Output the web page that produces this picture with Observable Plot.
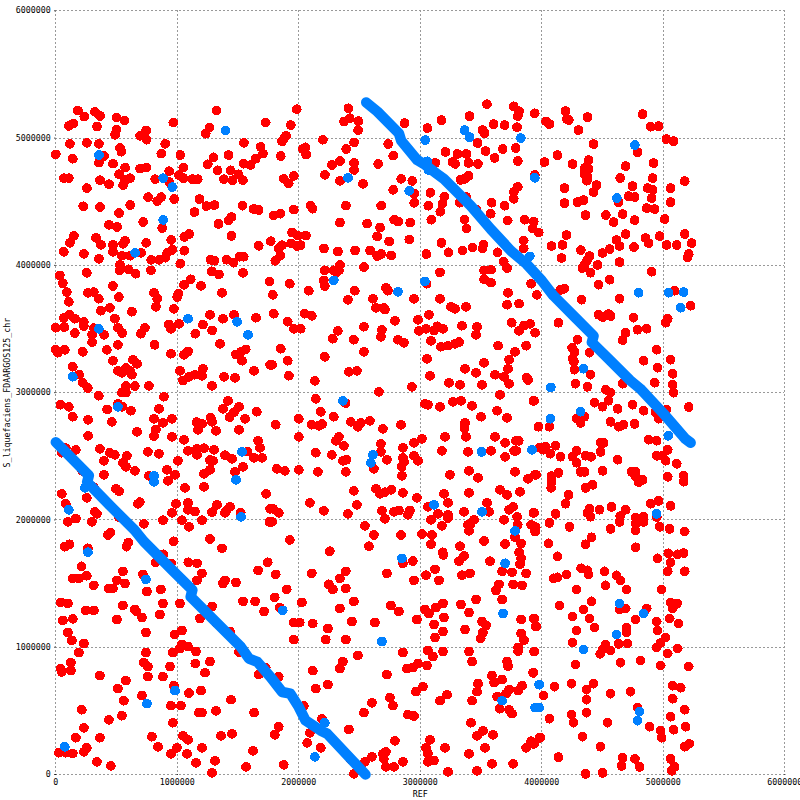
<!DOCTYPE html>
<html>
<head>
<meta charset="utf-8">
<script src="https://cdn.jsdelivr.net/npm/d3@7"></script>
<script src="https://cdn.jsdelivr.net/npm/@observablehq/plot@0.6"></script>
<style>html,body{margin:0;padding:0;background:#fff}svg{display:block}</style>
</head>
<body>
<div id="chart"></div>
<script>
// all positions in kilobases: [REF, query]
const xTickValues = [0,1000000,2000000,3000000,4000000,5000000,6000000];
const yTickValues = [0,1000000,2000000,3000000,4000000,5000000,6000000];

const redTopLeft = [[182,5216],[234,5169],[322,5206],[364,5174],[499,5161],[565,5138],[107,5096],[143,5114],[339,5091],[499,5068],[488,5026],[744,5060],[694,5018],[727,5021],[747,4987],[967,5122],[1322,5216],[1265,5083],[1234,5034],[1727,5122],[116,4955],[256,4963],[355,4955],[529,4922],[540,4893],[901,4955],[1548,4963],[1686,4930],[1705,4878],[0,4872],[140,4838],[397,4859],[355,4807],[471,4799],[570,4768],[694,4760],[744,4768],[868,4878],[1025,4867],[1050,4768],[1298,4849],[1422,4867],[1251,4794],[1331,4747],[1438,4747],[1546,4799],[1603,4789],[1645,4838],[934,4740],[521,4716],[66,4685],[107,4685],[364,4669],[438,4638],[570,4669],[612,4685],[554,4630],[818,4677],[1014,4708],[1050,4685],[1124,4677],[1168,4677],[1383,4677],[1455,4669],[1504,4716],[1540,4669],[934,4654],[256,4607],[760,4536],[868,4536],[835,4505],[975,4521],[1182,4521],[226,4464],[364,4458],[612,4474],[1240,4466],[1306,4474],[1537,4469],[1628,4443],[1670,4435],[521,4411],[1141,4419],[719,4341],[1339,4326],[1422,4352],[1446,4380],[438,4318],[504,4302],[876,4294],[149,4232],[331,4216],[116,4177],[372,4161],[471,4161],[471,4107],[570,4193],[554,4169],[744,4177],[950,4200],[1058,4224],[1099,4247],[1446,4232],[1769,4190],[1670,4154],[66,4107],[231,4091],[355,4052],[545,4076],[612,4076],[529,4005],[703,4099],[785,4044],[851,4044],[901,4060],[917,4099],[959,4122],[1058,4115],[1025,4013],[1273,4044],[1306,4036],[1405,4044],[1463,4021],[1512,4068],[1546,4068]];

const redTopMiddle = [[1983,5227],[2408,5234],[1934,5102],[2372,5130],[2419,5156],[2490,5133],[2488,5062],[1876,4992],[1895,5018],[1862,4974],[2198,4987],[2455,4966],[2033,4914],[2055,4927],[2061,4870],[2391,4914],[2736,4953],[2777,4862],[2871,5117],[3058,5078],[3174,5141],[3405,5172],[3548,5266],[3769,5250],[3813,5211],[3802,5172],[3942,5195],[3603,5109],[3694,5102],[3796,5086],[3512,5062],[3529,5039],[3471,4961],[3537,4898],[3678,4914],[3785,4922],[3612,4844],[3802,4820],[3207,4891],[3306,4875],[3380,4875],[1851,4859],[2339,4820],[2273,4789],[2455,4805],[2455,4750],[2653,4797],[3124,4805],[3265,4812],[3287,4797],[3397,4805],[3474,4797],[2215,4711],[1876,4680],[1917,4643],[1959,4703],[2339,4664],[2529,4641],[2843,4680],[2934,4664],[2777,4594],[3331,4672],[3364,4680],[3397,4703],[3942,4711],[3802,4617],[3769,4576],[3769,4523],[2950,4563],[3083,4570],[2950,4492],[3198,4539],[3182,4484],[3165,4422],[3066,4469],[3380,4536],[3323,4492],[2388,4469],[2678,4469],[2096,4469],[2113,4445],[1959,4438],[1848,4406],[1793,4391],[3587,4492],[3694,4469],[3460,4438],[3579,4406],[2785,4359],[2818,4344],[2917,4336],[3091,4359],[3364,4359],[3380,4289],[3719,4352],[3860,4359],[3934,4344],[3926,4289],[3975,4258],[2339,4336],[2562,4328],[2669,4297],[2645,4227],[2909,4203],[2744,4188],[1945,4258],[1992,4234],[2058,4234],[1937,4172],[1986,4151],[2014,4159],[1862,4159],[1835,4133],[2207,4133],[2322,4109],[2463,4117],[2587,4117],[2678,4089],[2645,4073],[2760,4078],[1848,4076],[1807,4036],[3174,4177],[3232,4102],[3050,4089],[3347,4117],[3430,4141],[3521,4164],[3512,4133],[3636,4102],[3851,4195],[3851,4133],[3686,4031],[2339,4003]];

const redTopRight = [[4195,5212],[4036,5131],[4063,5110],[4206,5149],[4222,5142],[4376,5165],[4302,5063],[4830,5188],[4896,5089],[4961,5094],[4426,4953],[5025,4992],[5085,4976],[4788,4890],[4129,4866],[4022,4812],[4253,4796],[4385,4827],[4352,4764],[4385,4757],[4352,4717],[4376,4696],[4371,4665],[4690,4780],[4920,4804],[4646,4686],[4912,4686],[5176,4662],[4747,4623],[4187,4607],[4451,4631],[4426,4576],[4871,4607],[4912,4594],[5060,4607],[4714,4544],[4764,4537],[4904,4529],[5060,4497],[4187,4489],[4294,4497],[4343,4513],[4632,4497],[4863,4450],[4929,4442],[4360,4395],[4527,4395],[4665,4403],[4591,4340],[4764,4356],[5011,4364],[4203,4238],[4690,4246],[4854,4215],[4879,4175],[4970,4230],[5176,4246],[4615,4199],[4640,4152],[4080,4152],[4170,4160],[4758,4144],[5027,4160],[5110,4160],[5233,4175],[4321,4120],[5209,4089],[5200,4063],[4162,4058],[4393,4073],[4500,4097],[4558,4128],[4640,4026],[4459,4003],[4352,4003],[4371,4037]];

const redMidLeft = [[33,3921],[58,3859],[91,3790],[107,3714],[255,3942],[264,3785],[313,3790],[354,3738],[470,3838],[519,3751],[527,3961],[599,3969],[657,3934],[783,3961],[371,3644],[445,3667],[626,3636],[808,3785],[835,3738],[824,3675],[972,3659],[1000,3751],[1008,3777],[1055,3848],[1110,3890],[1195,3840],[1283,3953],[1343,3929],[1541,3942],[1368,3785],[1758,3874],[115,3612],[66,3586],[157,3581],[231,3555],[231,3523],[486,3581],[313,3507],[71,3515],[0,3510],[157,3468],[299,3455],[299,3397],[398,3455],[511,3510],[547,3468],[733,3510],[700,3463],[931,3536],[948,3502],[1014,3541],[1211,3534],[1286,3489],[1148,3463],[1269,3612],[1376,3581],[1467,3612],[1648,3589],[511,3376],[813,3376],[1352,3384],[0,3337],[16,3314],[74,3337],[222,3321],[420,3337],[948,3306],[1055,3298],[1088,3324],[1483,3300],[1522,3319],[1563,3340],[1533,3251],[470,3251],[635,3259],[668,3227],[140,3204],[511,3172],[547,3156],[577,3193],[610,3172],[626,3141],[192,3141],[1022,3172],[1211,3188],[1145,3141],[1203,3133],[1096,3125],[1047,3096],[1385,3125],[1475,3117],[1632,3172],[1764,3219],[222,3078],[264,3036],[577,3052],[651,3052],[766,3054],[1286,3054],[544,3000],[577,3000],[354,2976],[890,2968],[38,2905],[107,2889],[1417,2936],[511,2913],[547,2889],[423,2868],[618,2858],[849,2873],[1376,2873],[1508,2889],[1467,2847],[1431,2808],[1654,2850],[140,2811],[266,2787],[461,2771],[808,2795],[956,2795],[882,2763],[1159,2769],[1203,2755],[1170,2708],[1275,2803],[1286,2771],[1558,2795],[668,2693],[824,2711],[808,2659],[1319,2700],[1508,2708],[266,2661],[956,2653],[1055,2630],[1665,2622],[1681,2567],[82,2564],[165,2551],[363,2559],[49,2528],[445,2528],[486,2512],[585,2504],[758,2535],[849,2520],[1088,2543],[1162,2559],[1162,2512],[1220,2564],[1302,2551],[1269,2470],[1294,2465],[1393,2509],[1450,2480],[1577,2538],[1632,2488],[1698,2488],[1005,2465],[396,2465],[552,2449],[577,2418],[651,2386],[915,2394],[1269,2394],[1220,2362],[1541,2418],[1475,2378],[217,2386],[396,2355],[766,2347],[981,2355],[923,2307],[313,2258],[1063,2252],[1220,2260],[495,2245],[520,2225],[1731,2205],[49,2205],[255,2174],[82,2127],[676,2127],[692,2140],[989,2127],[1088,2134],[1088,2080],[1145,2066],[1327,2119],[1434,2103],[1393,2056],[1407,2075],[1286,2061],[956,2056],[321,2064],[338,2048],[165,2011],[99,1985],[297,1985],[882,1998],[1038,1998],[1203,1998],[725,1970],[1096,1946],[1522,2056],[519,2022],[1764,2087],[1758,1985]];

const redMidMiddle = [[2214,3961],[2288,3961],[2330,3961],[2310,3942],[2536,3987],[2206,3882],[2214,3838],[1926,3856],[2082,3801],[1786,3769],[2461,3801],[2404,3730],[2610,3738],[2717,3824],[2733,3801],[2948,3738],[3052,3856],[3162,3945],[3162,3738],[3525,3961],[3582,3966],[3525,3890],[3582,3864],[3714,3979],[3912,3856],[3722,3785],[3959,3769],[3714,3691],[3813,3699],[3253,3675],[3286,3659],[3376,3675],[2635,3667],[2700,3667],[2709,3652],[1794,3620],[2049,3620],[2107,3604],[1909,3557],[2791,3565],[3071,3612],[2981,3573],[1959,3502],[2016,3502],[2321,3486],[2536,3518],[2684,3494],[2280,3424],[2453,3416],[2676,3439],[2816,3416],[2865,3392],[2989,3486],[3047,3502],[3113,3489],[3140,3521],[3187,3502],[3343,3526],[3467,3518],[3459,3455],[3088,3408],[3170,3361],[3228,3369],[3286,3384],[3319,3397],[3752,3549],[3813,3486],[3854,3528],[3904,3541],[3945,3471],[3640,3369],[3871,3369],[1852,3345],[2214,3282],[2536,3321],[3780,3321],[1909,3251],[1780,3219],[3055,3266],[3525,3235],[3731,3259],[3722,3188],[3368,3188],[3459,3156],[2412,3164],[2478,3172],[1918,3133],[3080,3133],[3615,3141],[3689,3125],[3876,3117],[3887,3100],[2132,3093],[3236,3078],[3327,3062],[3508,3062],[3731,3070],[2931,3046],[2659,3007],[3656,2983],[2140,2952],[2385,2918],[3038,2913],[3063,2905],[3162,2889],[3269,2928],[3335,2936],[3426,2897],[3937,2936],[2181,2850],[3632,2858],[2288,2811],[2000,2795],[3500,2811],[3714,2803],[1810,2748],[2107,2748],[2165,2740],[2192,2753],[2428,2771],[2486,2732],[2511,2763],[2585,2779],[2692,2716],[2841,2748],[3368,2763],[3363,2721],[3972,2732],[2000,2653],[2330,2653],[2305,2622],[3376,2653],[3203,2653],[3615,2653],[3013,2638],[2948,2606],[2676,2598],[3698,2606],[3788,2622],[3810,2622],[2371,2583],[2857,2567],[2676,2535],[2140,2528],[2272,2512],[3178,2543],[3393,2535],[3582,2543],[3772,2543],[3790,2543],[3698,2496],[2948,2504],[2981,2465],[2857,2488],[2865,2455],[2725,2473],[2363,2465],[2393,2473],[2618,2402],[2846,2418],[2849,2347],[1819,2402],[1885,2386],[2000,2394],[2157,2378],[2387,2378],[3401,2386],[3780,2378],[3244,2355],[3475,2331],[3887,2323],[3953,2355],[2453,2229],[2635,2245],[2668,2205],[2709,2218],[2761,2237],[2857,2213],[3195,2205],[3401,2213],[3656,2237],[3714,2197],[3821,2221],[2972,2174],[2091,2135],[2478,2119],[3228,2135],[3549,2135],[3063,2103],[1788,2087],[1835,2056],[2206,2072],[2404,2048],[2684,2072],[2709,2009],[2783,2064],[2824,2074],[2915,2074],[2898,2040],[3146,2048],[3228,2040],[3228,2015],[3360,2064],[3566,2064],[3731,2080],[3764,2103],[3797,2025],[3937,2056],[1780,1985],[3088,2001],[3442,2001],[3415,1970],[3689,2001],[2544,1954],[3178,1954],[3393,1962],[3401,1914],[3802,1962],[3912,1962],[3950,1943]];

const redMidRight = [[4335,3979],[4401,3942],[4904,3950],[4558,3887],[4467,3848],[4187,3817],[4151,3806],[5093,3801],[5225,3683],[4327,3730],[4640,3738],[4467,3612],[4500,3594],[4549,3617],[4566,3602],[4755,3589],[5036,3581],[5019,3549],[4137,3549],[4788,3494],[4863,3502],[4690,3471],[4665,3413],[4294,3416],[4250,3353],[4269,3319],[4253,3266],[4264,3245],[4393,3314],[4945,3337],[4838,3251],[5060,3259],[4953,3196],[4269,3180],[4401,3141],[5077,3148],[4277,3070],[4376,3046],[4665,3070],[4929,3078],[5077,3062],[4527,3023],[4566,3000],[4549,2936],[5085,3000],[4434,2921],[4500,2889],[4747,2905],[4624,2873],[4838,2858],[5209,2887],[5027,2866],[4961,2795],[4936,2847],[4352,2811],[4286,2795],[4319,2763],[4566,2771],[4632,2732],[4673,2748],[4764,2755],[3973,2732],[4063,2732],[3931,2936],[4879,2630],[4945,2622],[4484,2606],[4509,2606],[4484,2535],[5036,2551],[4033,2575],[3981,2567],[4014,2551],[4113,2583],[4071,2520],[4154,2496],[4286,2543],[4253,2496],[4286,2449],[4360,2504],[4407,2496],[4624,2473],[4945,2504],[4994,2507],[5019,2465],[5110,2441],[4319,2378],[4352,2378],[4500,2386],[4739,2378],[4772,2378],[4772,2339],[4830,2315],[4797,2297],[5036,2339],[5167,2347],[5167,2300],[4137,2370],[4080,2344],[3945,2355],[4080,2297],[4077,2252],[4360,2252],[4418,2276],[4220,2197],[4195,2127],[3931,2056],[4113,2048],[4393,2087],[4376,2056],[4401,2025],[4475,2080],[4574,2103],[4690,2080],[4646,2030],[4640,1985],[4772,2017],[4838,2025],[4838,1985],[4772,1970],[4772,1917],[4896,2127],[4961,2150],[5060,2111],[4947,2022],[4063,1977],[4228,1946],[4566,1930],[4970,1946],[5052,1930],[5176,1909]];

const redLowLeft = [[429,1882],[450,1900],[74,1790],[113,1809],[264,1777],[596,1822],[582,1790],[970,1832],[1269,1851],[1368,1777],[885,1730],[212,1635],[821,1667],[948,1659],[1091,1667],[1162,1659],[1744,1667],[552,1596],[1665,1604],[1203,1580],[1162,1525],[255,1562],[140,1541],[190,1541],[503,1525],[569,1501],[717,1572],[1393,1525],[1376,1501],[1483,1509],[313,1486],[437,1462],[470,1462],[865,1454],[750,1438],[41,1352],[99,1344],[882,1344],[1022,1344],[1541,1360],[1640,1360],[552,1328],[651,1297],[665,1280],[247,1289],[313,1289],[1714,1281],[1286,1320],[857,1257],[709,1234],[1187,1226],[58,1210],[140,1223],[503,1218],[1319,1194],[742,1116],[1038,1131],[978,1100],[99,1116],[1434,1123],[132,1053],[231,1029],[1022,990],[1038,1021],[1088,1005],[964,958],[1154,966],[742,958],[190,958],[1549,971],[1508,963],[124,879],[725,879],[758,848],[1148,872],[1269,887],[940,848],[41,832],[49,806],[124,816],[1228,800],[1728,840],[1670,785],[363,777],[758,769],[882,769],[577,738],[511,675],[972,698],[1096,640],[1195,659],[709,620],[560,580],[1442,588],[948,541],[1030,541],[214,509],[1178,486],[1203,486],[1319,501],[1632,486],[544,462],[437,430],[964,407],[231,367],[165,289],[363,289],[791,297],[1047,304],[1088,273],[1360,304],[1450,320],[255,210],[231,178],[25,171],[82,171],[140,165],[841,218],[997,210],[1203,210],[948,163],[1080,163],[1623,186],[338,100],[1154,92],[1310,108],[453,68],[1566,60],[1286,13]];

const redLowMiddle = [[1926,1843],[2255,1754],[2577,1793],[2618,1882],[2841,1882],[3014,1890],[3096,1882],[3088,1809],[3327,1793],[3525,1835],[3698,1811],[3780,1864],[3830,1816],[3813,1746],[3830,1698],[3821,1651],[3184,1746],[3190,1725],[3360,1717],[3319,1675],[3574,1675],[2857,1659],[2939,1677],[1810,1572],[2107,1580],[2387,1596],[2725,1580],[3121,1612],[3047,1565],[3343,1565],[3409,1580],[3673,1596],[3755,1588],[3871,1580],[2338,1541],[2948,1525],[3154,1525],[2247,1494],[2280,1454],[2387,1462],[1901,1454],[3648,1494],[3623,1446],[3764,1494],[3838,1486],[1802,1391],[2025,1352],[2453,1360],[3459,1375],[3673,1375],[2758,1328],[3335,1336],[3187,1344],[1843,1312],[2338,1305],[3038,1297],[3071,1265],[3129,1312],[2824,1281],[3401,1273],[3195,1234],[2972,1218],[2437,1202],[2626,1194],[1959,1194],[2008,1194],[2115,1186],[2239,1147],[3113,1179],[3508,1202],[3541,1171],[3830,1218],[3937,1226],[3953,1163],[3368,1139],[3187,1123],[3516,1116],[3497,1068],[3830,1108],[3854,1055],[3121,1076],[1959,1060],[2222,1060],[2387,1060],[3805,998],[3805,969],[3063,974],[3187,966],[3401,966],[2857,958],[3937,966],[2486,935],[3104,927],[2363,887],[2338,832],[3426,887],[3714,887],[3722,851],[3055,856],[2981,872],[2939,840],[2890,832],[2115,816],[2725,785],[3929,801],[1835,769],[3590,777],[3673,746],[3607,722],[3475,714],[2239,706],[2140,675],[3022,690],[2964,651],[3467,651],[3838,698],[3805,659],[3731,667],[3706,635],[3220,627],[2750,604],[3162,580],[3426,580],[3632,612],[2775,541],[2602,564],[2041,538],[3654,517],[3731,509],[3755,478],[2536,486],[2898,470],[2948,459],[2190,438],[3417,407],[1835,375],[1802,312],[2091,328],[2412,354],[3516,344],[3467,304],[3599,312],[2791,265],[3080,273],[3912,262],[3981,289],[2069,249],[2181,210],[3047,210],[3203,210],[3533,210],[3871,210],[3937,241],[2717,178],[2692,163],[2700,123],[2602,139],[2544,100],[2428,116],[2857,100],[3401,163],[3063,163],[3063,100],[3113,110],[1876,76],[2717,60],[2783,60],[3590,84],[3764,84],[2453,5],[3228,21],[3467,29]];

const redLowRight = [[3945,1908],[4055,1816],[4409,1864],[4360,1809],[4129,1714],[4772,1785],[4953,1698],[5041,1738],[5118,1730],[5167,1740],[5060,1667],[5036,1596],[5176,1596],[4324,1620],[4376,1604],[4385,1572],[4516,1596],[4096,1541],[4129,1549],[4203,1572],[4615,1565],[4648,1525],[4525,1486],[4286,1454],[4698,1454],[4986,1454],[4409,1360],[4146,1328],[5060,1352],[5113,1344],[5077,1305],[4343,1297],[4640,1297],[4690,1305],[4863,1305],[4253,1242],[4393,1226],[3931,1226],[3948,1163],[4772,1218],[4945,1202],[5052,1226],[5126,1187],[4434,1155],[4286,1131],[4698,1155],[4698,1118],[4953,1131],[5019,1076],[4978,1034],[4945,998],[4253,1037],[4525,1021],[4500,982],[4481,948],[4566,974],[4632,1026],[4706,1029],[5118,990],[5036,950],[4277,864],[4648,879],[4813,895],[4978,856],[5209,848],[3929,798],[4244,714],[4426,714],[4104,690],[5077,698],[5143,682],[4368,667],[4566,635],[4731,651],[4014,620],[4368,588],[5077,596],[4788,525],[5176,509],[4244,470],[4368,486],[5060,454],[4063,438],[4261,407],[4541,407],[4887,375],[5184,375],[4978,344],[5085,352],[4986,289],[3989,289],[4335,297],[3931,241],[5176,218],[5214,241],[4483,218],[4137,136],[4665,131],[4766,123],[5060,123],[4657,68],[4805,60],[5093,60],[5069,29],[4360,5],[4500,13]];

const blueScattered = [[355,4867],[884,4685],[959,4615],[884,4357],[653,4099],[1397,5060],[2405,4688],[2909,4586],[3041,4984],[3364,5062],[3405,5008],[3827,5000],[3942,4688],[3901,4070],[3066,4750],[3058,4817],[4766,4945],[4618,4529],[4797,3785],[5044,3785],[5167,3790],[5143,3667],[4343,3188],[4074,3041],[4319,2850],[4071,2795],[5041,2661],[4945,2048],[354,3502],[1088,3581],[1492,3557],[1582,3455],[140,3125],[511,2889],[1533,2535],[808,2347],[808,2300],[1483,2315],[239,2252],[107,2080],[1525,2024],[2288,3882],[3038,3874],[2816,3793],[2363,2936],[2610,2512],[2593,2449],[3113,2119],[3508,2064],[3920,2551],[3505,2535],[3780,1914],[264,1746],[742,1533],[981,659],[750,557],[74,218],[2849,1698],[3698,1659],[3681,1265],[2684,1045],[1868,1289],[2132,139],[2214,407],[3673,580],[3978,706],[3945,525],[4640,1344],[4838,1265],[4615,1100],[4343,982],[3981,706],[3978,525],[4805,494],[4788,423]];

const blueUpperRun = [[2555,5280],[2646,5209],[2824,5037],[2843,4979],[2975,4827],[3040,4790],[3140,4717],[3195,4678],[3415,4468],[3580,4285],[3745,4115],[3875,4010],[4000,3880],[4096,3762],[4275,3591],[4426,3446],[4412,3395],[4563,3253],[4728,3096],[4810,3031],[5003,2834],[5181,2638],[5225,2606]];
const blueLowerRun = [[0,2611],[272,2349],[258,2297],[459,2100],[648,1921],[725,1830],[972,1593],[1124,1449],[1110,1396],[1330,1186],[1522,1003],[1590,911],[1659,885],[1767,766],[1863,648],[1931,635],[2000,530],[2055,425],[2179,346],[2234,320],[2549,0]];

const bp = rows => rows.map(([x, y]) => ({x: x * 1000, y: y * 1000}));
const redHits = bp([...redTopLeft, ...redTopMiddle, ...redTopRight, ...redMidLeft, ...redMidMiddle, ...redMidRight, ...redLowLeft, ...redLowMiddle, ...redLowRight]);

const RED = "#ff0000", BLUE = "#0080ff", GRID = "#999999";
const FONT = "'DejaVu Sans Mono', monospace";

const chart = Plot.plot({
  width: 800, height: 800,
  marginLeft: 55.3, marginRight: 15.7, marginTop: 10.3, marginBottom: 26,
  style: {background: "#fff", fontFamily: FONT, fontSize: "8.3px", color: "#000"},
  x: {type: "linear", domain: [0, 6000000], label: null},
  y: {type: "linear", domain: [0, 6000000], label: null},
  marks: [
    Plot.ruleX(xTickValues, {stroke: GRID, strokeWidth: 1, strokeDasharray: "2,2", strokeOpacity: 1, shapeRendering: "crispEdges"}),
    Plot.ruleY(yTickValues, {stroke: GRID, strokeWidth: 1, strokeDasharray: "2,2", strokeOpacity: 1, shapeRendering: "crispEdges"}),
    Plot.axisX({ticks: xTickValues, tickFormat: d => String(d), tickSize: 1, tickPadding: 4,
      label: "REF", labelAnchor: "center", labelArrow: "none", labelOffset: 22, fontFamily: FONT}),
    Plot.axisY({ticks: yTickValues, tickFormat: d => String(d), tickSize: 1, tickPadding: 4,
      label: "S_liquefaciens_FDAARGOS125_chr", labelAnchor: "center", labelArrow: "none", labelOffset: 52, fontFamily: FONT}),
    Plot.dot(redHits, {x: "x", y: "y", r: 4.9, fill: RED, stroke: "none", shapeRendering: "crispEdges"}),
    Plot.line(bp(blueUpperRun), {x: "x", y: "y", stroke: BLUE, strokeWidth: 10.5, strokeLinecap: "round", strokeLinejoin: "round"}),
    Plot.line(bp(blueLowerRun), {x: "x", y: "y", stroke: BLUE, strokeWidth: 10.5, strokeLinecap: "round", strokeLinejoin: "round"}),
    Plot.dot(bp(blueScattered), {x: "x", y: "y", r: 4.9, fill: BLUE, stroke: "none", shapeRendering: "crispEdges"})
  ]
});
document.getElementById("chart").appendChild(chart);
</script>
</body>
</html>
